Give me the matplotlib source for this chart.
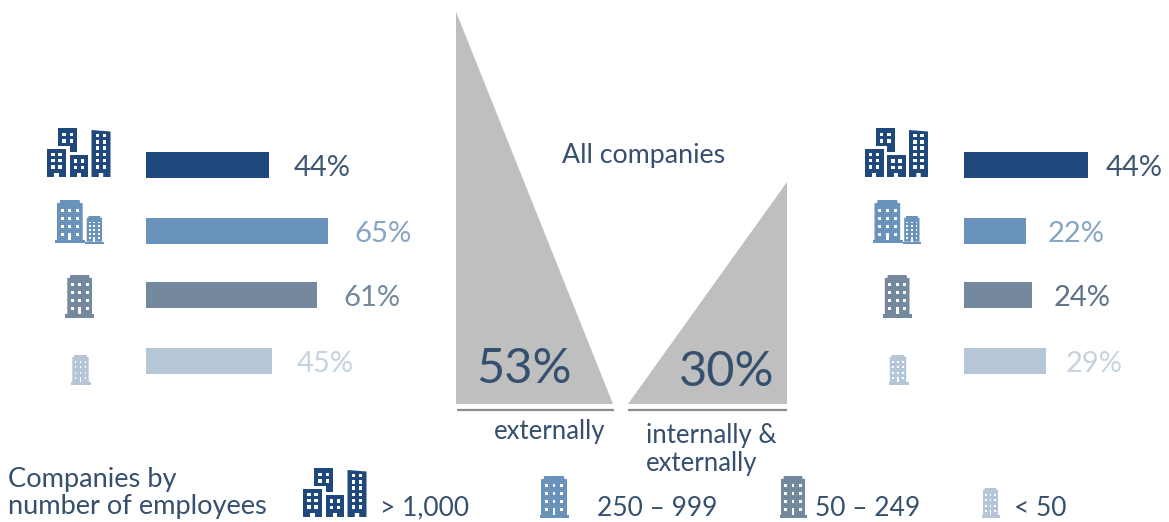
import matplotlib
matplotlib.use("Agg")
import matplotlib.pyplot as plt
from matplotlib.patches import Polygon, Rectangle

plt.rcParams['font.family'] = ['Lato', 'DejaVu Sans']

W, H = 1169, 522
left_values = [44, 65, 61, 45]
right_values = [44, 22, 24, 29]
overall_values = [53, 30]
overall_labels = ['externally', 'internally &\nexternally']
legend_labels = ['> 1,000', '250 – 999', '50 – 249', '< 50']
bar_colors = ['#1F497D', '#6A93BC', '#74899D', '#B5C7D6']
left_text_colors = ['#3F5673', '#86A4C4', '#74899D', '#C5D3DF']
right_text_colors = ['#3F5673', '#86A4C4', '#5E7388', '#C5D3DF']
TXT = '#35506E'
GREY = '#BFBFBF'

fig = plt.figure(figsize=(W / 100, H / 100), dpi=100)
canvas = fig.add_axes([0, 0, 1, 1], zorder=5)
canvas.set_xlim(0, W)
canvas.set_ylim(H, 0)
canvas.axis('off')


def sub_axes(x0, y0, w, h):
    ax = fig.add_axes([x0 / W, 1 - (y0 + h) / H, w / W, h / H], zorder=1)
    ax.axis('off')
    return ax


# bars: about 2.8 px per percent, rows centred at the icon positions
rows = [165, 231, 295, 361]
lax = sub_axes(146, 130, 280, 260)
lax.set_xlim(0, 100)
lax.set_ylim(390, 130)
lax.barh(rows, left_values, height=26, color=bar_colors)
rax = sub_axes(964, 130, 282, 260)
rax.set_xlim(0, 100)
rax.set_ylim(390, 130)
rax.barh(rows, right_values, height=26, color=bar_colors)

# triangles: height proportional to the value
tax = sub_axes(456, 0, 331, 404)
tax.set_xlim(0, 331)
tax.set_ylim(0, 404 / 7.4)
tax.add_patch(Polygon([(0, 0), (0, overall_values[0]), (157, 0)], color=GREY, lw=0))
tax.add_patch(Polygon([(331, 0), (331, overall_values[1]), (172, 0)], color=GREY, lw=0))

canvas.plot([457, 614], [410, 410], color='#8C8C8C', lw=1.6, solid_capstyle='butt')
canvas.plot([628, 787], [410, 410], color='#8C8C8C', lw=1.6, solid_capstyle='butt')


def windows(x0, x1, y0, y1, cols, rows_n, size, color='white'):
    for r in range(rows_n):
        for c in range(cols):
            x = x0 + (x1 - x0) * c / max(cols - 1, 1)
            y = y0 + (y1 - y0) * r / max(rows_n - 1, 1)
            canvas.add_patch(Rectangle((x - size / 2, y - size / 2), size, size, color=color, lw=0))


def cluster(ox, oy, s=1.0, color=bar_colors[0]):
    def P(pts):
        return [(ox + x * s, oy + y * s) for x, y in pts]

    def block(x0, x1, top, topr=None):
        topr = top if topr is None else topr
        dw = 2.2
        xm = (x0 + x1) / 2
        canvas.add_patch(Polygon(P([(x0, top), (x1, topr), (x1, 49), (xm + dw, 49), (xm + dw, 45),
                                    (xm - dw, 45), (xm - dw, 49), (x0, 49)]), color=color, lw=0))

    canvas.add_patch(Polygon(P([(11, 0), (30, 0), (30, 24), (22.5, 24), (22.5, 18), (11, 18)]),
                             color=color, lw=0))
    block(0, 19, 20.5)
    block(22.5, 41, 27)
    block(44.5, 63.5, 2, 3.5)
    sz = 3.4 * s

    def W_(x0, x1, y0, y1, c, r):
        windows(ox + x0 * s, ox + x1 * s, oy + y0 * s, oy + y1 * s, c, r, sz)

    W_(17, 24.5, 6.5, 13, 2, 2)
    W_(6, 13, 26.5, 39, 2, 3)
    W_(28.5, 35.5, 33, 39.5, 2, 2)
    W_(50.5, 57.5, 7.5, 39, 2, 6)


def tower(x0, x1, top, bottom, bx0, bx1, bbottom, color, cols, rows_n, size):
    w = x1 - x0
    ch = w * 0.1
    canvas.add_patch(Polygon([(x0, top + ch * 1.2), (x0 + ch, top + ch * 1.2), (x0 + ch * 1.2, top),
                              (x1 - ch * 1.2, top), (x1 - ch, top + ch * 1.2), (x1, top + ch * 1.2),
                              (x1, bottom), (x0, bottom)], color=color, lw=0))
    canvas.add_patch(Rectangle((bx0, bottom), bx1 - bx0, bbottom - bottom, color=color, lw=0))
    h = bottom - top
    wx0, wx1 = x0 + w * 0.2, x1 - w * 0.2
    wy0, wy1 = top + h * 0.25, bottom - h * 0.14
    windows(wx0, wx1, wy0, wy1, cols, rows_n, size)
    xm = (x0 + x1) / 2
    canvas.add_patch(Rectangle((xm - size * 0.5, wy1 - size * 0.3), size, bottom - wy1 + size * 0.3,
                               color='white', lw=0))


def icon_set(dx):
    cluster(47 + dx, 128)
    tower(57 + dx, 82.7 + dx, 200, 240, 55 + dx, 85 + dx, 243, bar_colors[1], 3, 4, 3)
    tower(86.7 + dx, 102 + dx, 216, 241.7, 85 + dx, 103.7 + dx, 244, bar_colors[1], 3, 5, 1.8)
    tower(67.3 + dx, 92 + dx, 275, 314, 65 + dx, 94 + dx, 318, bar_colors[2], 3, 4, 3)
    tower(72.3 + dx, 88.7 + dx, 355, 382, 71 + dx, 91 + dx, 385, bar_colors[3], 3, 4, 1.8)


icon_set(0)
icon_set(817.5)

# legend icons
cluster(303, 468)
tower(541, 567, 476, 515, 539.5, 568.5, 518, bar_colors[1], 3, 4, 2.8)
tower(781, 805, 476, 515, 779.5, 806.5, 518, bar_colors[2], 3, 4, 2.8)
tower(983, 998, 488, 515, 981.5, 1000, 518, bar_colors[3], 3, 4, 1.8)

F = 21
left_x = [294, 354, 343, 297]
right_x = [1106, 1048, 1054, 1066]
for y, v, x, c in zip(rows, left_values, left_x, left_text_colors):
    canvas.text(x, y + 3, f'{v}%', color=c, fontsize=F, va='center', ha='left')
for y, v, x, c in zip(rows, right_values, right_x, right_text_colors):
    canvas.text(x, y + 3, f'{v}%', color=c, fontsize=F, va='center', ha='left')

canvas.text(644, 155, 'All companies', color=TXT, fontsize=19.3, ha='center', va='center')
canvas.text(524, 369, f'{overall_values[0]}%', color=TXT, fontsize=35, ha='center', va='center')
canvas.text(727, 372, f'{overall_values[1]}%', color=TXT, fontsize=35, ha='center', va='center')
canvas.text(550, 432, overall_labels[0], color=TXT, fontsize=18.5, ha='center', va='center')
canvas.text(646, 449, overall_labels[1], color=TXT, fontsize=18.5, ha='left', va='center', linespacing=1.15)
canvas.text(8, 493, 'Companies by\nnumber of employees', color=TXT, fontsize=19.6, ha='left', va='center',
            linespacing=1.1)
for x, lab in zip([380, 597, 815, 1014], legend_labels):
    canvas.text(x, 508, lab, color=TXT, fontsize=19, ha='left', va='center')

fig.savefig('out.png', dpi=100)
